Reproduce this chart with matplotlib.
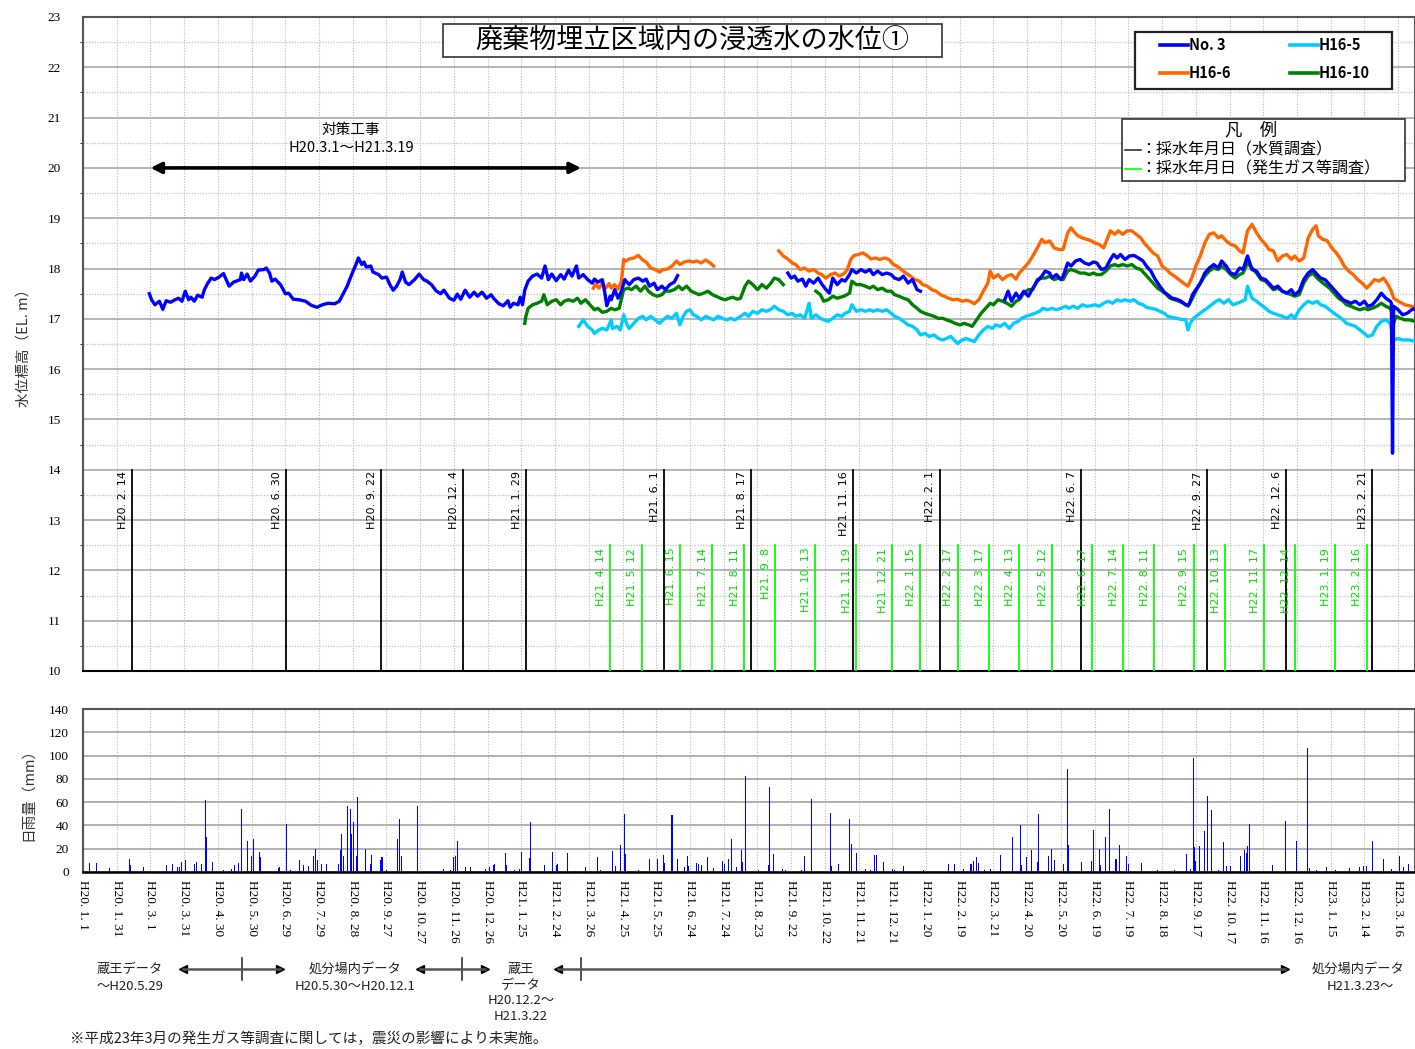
"""廃棄物埋立区域内の浸透水の水位① と日雨量."""

import datetime as dt

import numpy as np
import matplotlib.pyplot as plt
from matplotlib.patches import Rectangle
from matplotlib.ticker import MultipleLocator

plt.rcParams['font.family'] = ['Noto Sans CJK JP', 'DejaVu Sans']

# 基準日 H20.1.1 からの経過日数で横軸をとる
BASE = dt.date(2008, 1, 1)


def heisei(s):
    """'H21. 4. 14' のような平成表記を経過日数に変換."""
    y, m, d = [int(v) for v in s.replace('H', '').replace(' ', '').split('.')]
    return (dt.date(1988 + y, m, d) - BASE).days


# 浸透水の水位 (経過日数, EL.m)
no3 = [
    (59, 17.50), (61, 17.38), (64, 17.28), (68, 17.35), (71, 17.19), (74, 17.36),
    (78, 17.33), (81, 17.37), (85, 17.41), (88, 17.35), (91, 17.55), (94, 17.38),
    (96, 17.43), (99, 17.35), (102, 17.47), (106, 17.43), (108, 17.58), (111, 17.71),
    (114, 17.81), (117, 17.78), (121, 17.83), (125, 17.90), (130, 17.65), (134, 17.73),
    (140, 17.78), (141, 17.91), (143, 17.78), (146, 17.89), (149, 17.75), (153, 17.85),
    (156, 17.97), (161, 17.98), (163, 18.01), (166, 17.91), (168, 17.75), (171, 17.79),
    (176, 17.67), (180, 17.50), (183, 17.51), (187, 17.39), (192, 17.38), (198, 17.35),
    (203, 17.27), (208, 17.23), (213, 17.28), (218, 17.31), (224, 17.30), (228, 17.35),
    (231, 17.48), (235, 17.65), (239, 17.88), (243, 18.09), (245, 18.21), (248, 18.08),
    (250, 18.13), (252, 18.03), (256, 18.05), (258, 17.93), (263, 17.88), (266, 17.81),
    (270, 17.83), (273, 17.68), (276, 17.57), (279, 17.65), (282, 17.78), (284, 17.93),
    (287, 17.73), (290, 17.68), (295, 17.78), (299, 17.89), (303, 17.78), (306, 17.75),
    (310, 17.68), (314, 17.56), (318, 17.50), (321, 17.57), (326, 17.41), (330, 17.37),
    (333, 17.49), (336, 17.39), (340, 17.57), (344, 17.43), (348, 17.53), (351, 17.45),
    (355, 17.53), (359, 17.41), (363, 17.48), (366, 17.39), (370, 17.30), (374, 17.26),
    (378, 17.36), (380, 17.23), (383, 17.31), (387, 17.28), (389, 17.43), (391, 17.28),
    (393, 17.57), (396, 17.75), (400, 17.85), (404, 17.89), (408, 17.81), (411, 18.05),
    (414, 17.78), (417, 17.89), (421, 17.76), (425, 17.88), (428, 17.79), (432, 17.97),
    (435, 17.85), (439, 18.05), (441, 17.81), (445, 17.88), (449, 17.78), (453, 17.71),
    (455, 17.79), (458, 17.73), (462, 17.78), (464, 17.55), (466, 17.26), (469, 17.45),
    (470, 17.38), (473, 17.58), (476, 17.41), (479, 17.55), (482, 17.78), (486, 17.68),
    (490, 17.78), (494, 17.81), (498, 17.75), (501, 17.79), (504, 17.65), (508, 17.71),
    (511, 17.58), (515, 17.65), (518, 17.58), (522, 17.68), (526, 17.73), (529, 17.86),
    (530, np.nan),
    (627, 17.91), (630, 17.81), (633, 17.85), (636, 17.75), (640, 17.79), (643, 17.65),
    (646, 17.78), (650, 17.71), (654, 17.81), (657, 17.70), (661, 17.58), (664, 17.51),
    (667, 17.81), (671, 17.68), (675, 17.78), (678, 17.75), (682, 17.88), (684, 17.98),
    (688, 17.91), (692, 17.98), (696, 17.93), (700, 17.98), (703, 17.88), (707, 17.95),
    (711, 17.88), (715, 17.91), (719, 17.88), (722, 17.81), (726, 17.78), (730, 17.85),
    (734, 17.71), (738, 17.78), (742, 17.58), (745, 17.55),
    (746, np.nan),
    (820, 17.38), (823, 17.55), (826, 17.35), (830, 17.51), (833, 17.41), (837, 17.55),
    (841, 17.45), (845, 17.61), (849, 17.75), (853, 17.85), (856, 17.95), (860, 17.91),
    (862, 17.81), (866, 17.88), (870, 17.78), (872, 17.85), (876, 18.11), (879, 18.05),
    (883, 18.15), (887, 18.18), (891, 18.11), (895, 18.08), (899, 18.13), (902, 18.11),
    (906, 17.98), (910, 18.01), (914, 18.18), (917, 18.28), (920, 18.21), (923, 18.28),
    (927, 18.18), (931, 18.25), (935, 18.26), (939, 18.21), (943, 18.15), (946, 18.05),
    (950, 17.95), (954, 17.78), (958, 17.65), (962, 17.53), (965, 17.48), (969, 17.41),
    (973, 17.39), (977, 17.35), (981, 17.28), (984, 17.28), (987, 17.48), (990, 17.58),
    (994, 17.71), (998, 17.91), (1002, 18.01), (1006, 18.08), (1010, 18.01), (1013, 18.15),
    (1017, 18.05), (1021, 17.91), (1025, 17.88), (1029, 18.01), (1032, 17.98), (1036, 18.25),
    (1040, 17.98), (1044, 17.95), (1048, 17.81), (1052, 17.78), (1055, 17.71), (1059, 17.61),
    (1063, 17.65), (1067, 17.55), (1071, 17.51), (1075, 17.58), (1078, 17.48), (1082, 17.55),
    (1086, 17.78), (1090, 17.91), (1094, 17.98), (1098, 17.88), (1101, 17.81), (1105, 17.78),
    (1109, 17.68), (1113, 17.58), (1117, 17.48), (1121, 17.38), (1124, 17.35), (1128, 17.31),
    (1132, 17.35), (1136, 17.28), (1140, 17.35), (1143, 17.25), (1147, 17.28), (1151, 17.38),
    (1155, 17.51), (1159, 17.41), (1163, 17.35), (1164, 17.31), (1165, 14.33), (1166, 17.25),
    (1170, 17.18), (1174, 17.08), (1178, 17.11), (1182, 17.18), (1185, 17.21),
]

h16_5 = [
    (441, 16.85), (445, 16.98), (449, 16.85), (453, 16.78), (455, 16.71), (459, 16.78),
    (462, 16.81), (466, 16.78), (470, 16.98), (471, 16.81), (475, 16.85), (478, 16.78),
    (481, 17.08), (484, 16.88), (486, 16.81), (490, 16.91), (494, 17.01), (498, 17.05),
    (501, 16.98), (505, 17.05), (509, 16.98), (513, 16.91), (516, 16.98), (520, 17.05),
    (524, 17.01), (528, 17.11), (531, 16.88), (534, 17.05), (537, 17.15), (540, 17.18),
    (543, 17.08), (546, 17.05), (550, 16.98), (554, 17.05), (558, 17.01), (561, 16.98),
    (565, 17.05), (569, 17.01), (573, 16.98), (576, 17.01), (580, 16.98), (585, 17.05),
    (589, 17.11), (592, 17.05), (596, 17.15), (600, 17.11), (604, 17.18), (608, 17.15),
    (612, 17.19), (615, 17.25), (619, 17.18), (623, 17.15), (627, 17.08), (631, 17.11),
    (634, 17.05), (638, 17.08), (642, 17.01), (646, 17.31), (648, 17.01), (652, 17.08),
    (656, 17.01), (659, 16.98), (663, 16.95), (667, 17.01), (671, 17.08), (675, 17.05),
    (678, 17.11), (682, 17.15), (684, 17.28), (688, 17.15), (692, 17.18), (696, 17.15),
    (700, 17.18), (703, 17.15), (707, 17.18), (711, 17.15), (715, 17.18), (719, 17.11),
    (722, 17.05), (726, 17.01), (730, 16.95), (734, 16.88), (738, 16.85), (742, 16.78),
    (745, 16.68), (749, 16.71), (753, 16.65), (757, 16.68), (761, 16.61), (765, 16.58),
    (768, 16.61), (772, 16.65), (778, 16.51), (782, 16.58), (786, 16.61), (789, 16.58),
    (793, 16.55), (797, 16.68), (801, 16.78), (805, 16.85), (809, 16.81), (812, 16.88),
    (816, 16.85), (820, 16.91), (824, 16.81), (828, 16.91), (832, 16.95), (835, 17.01),
    (839, 17.05), (843, 17.08), (847, 17.11), (851, 17.15), (854, 17.21), (858, 17.18),
    (862, 17.21), (866, 17.18), (870, 17.21), (874, 17.25), (877, 17.21), (881, 17.25),
    (885, 17.21), (889, 17.28), (893, 17.25), (897, 17.26), (900, 17.28), (904, 17.25),
    (908, 17.31), (912, 17.35), (916, 17.31), (920, 17.38), (923, 17.35), (927, 17.38),
    (931, 17.35), (935, 17.38), (939, 17.31), (943, 17.28), (946, 17.23), (950, 17.21),
    (954, 17.19), (958, 17.15), (962, 17.11), (965, 17.05), (969, 17.03), (973, 17.01),
    (977, 16.99), (981, 16.98), (983, 16.78), (985, 16.91), (988, 17.01), (992, 17.08),
    (996, 17.15), (1000, 17.21), (1004, 17.28), (1008, 17.35), (1011, 17.38), (1015, 17.31),
    (1019, 17.38), (1023, 17.28), (1027, 17.31), (1031, 17.35), (1034, 17.38), (1036, 17.65),
    (1040, 17.41), (1044, 17.35), (1048, 17.28), (1052, 17.21), (1055, 17.15), (1059, 17.11),
    (1063, 17.08), (1067, 17.05), (1071, 17.01), (1075, 17.08), (1078, 17.01), (1082, 17.18),
    (1086, 17.28), (1090, 17.35), (1094, 17.31), (1098, 17.35), (1101, 17.28), (1105, 17.25),
    (1109, 17.18), (1113, 17.11), (1117, 17.05), (1121, 16.98), (1124, 16.91), (1128, 16.88),
    (1132, 16.85), (1136, 16.78), (1140, 16.71), (1143, 16.65), (1147, 16.68), (1151, 16.85),
    (1155, 16.95), (1159, 16.98), (1163, 16.91), (1166, 16.58), (1170, 16.61), (1174, 16.58),
    (1180, 16.58), (1185, 16.55),
]

h16_6 = [
    (454, 17.61), (456, 17.69), (459, 17.61), (462, 17.71), (465, 17.61), (468, 17.70),
    (470, 17.61), (473, 17.68), (476, 17.59), (479, 17.75), (481, 18.18), (483, 18.15),
    (486, 18.19), (490, 18.21), (494, 18.26), (498, 18.17), (501, 18.13), (505, 18.01),
    (509, 17.98), (513, 17.93), (516, 17.98), (520, 17.99), (524, 18.05), (528, 18.15),
    (531, 18.08), (535, 18.13), (539, 18.15), (543, 18.13), (546, 18.15), (550, 18.11),
    (554, 18.17), (558, 18.11), (561, 18.05),
    (562, np.nan),
    (619, 18.35), (623, 18.25), (627, 18.19), (631, 18.11), (634, 18.08), (638, 17.98),
    (642, 18.01), (646, 17.95), (650, 17.98), (654, 17.91), (657, 17.88), (661, 17.81),
    (665, 17.88), (669, 17.91), (673, 17.85), (677, 17.90), (680, 17.98), (683, 18.18),
    (686, 18.26), (690, 18.28), (694, 18.31), (698, 18.25), (701, 18.19), (705, 18.21),
    (709, 18.18), (713, 18.21), (717, 18.18), (721, 18.08), (724, 18.05), (728, 17.98),
    (732, 17.91), (736, 17.85), (740, 17.78), (744, 17.75), (747, 17.68), (751, 17.65),
    (755, 17.58), (759, 17.55), (763, 17.48), (766, 17.45), (770, 17.41), (774, 17.38),
    (778, 17.39), (782, 17.35), (786, 17.37), (789, 17.35), (793, 17.30), (797, 17.38),
    (801, 17.55), (805, 17.71), (807, 17.95), (810, 17.81), (814, 17.88), (818, 17.78),
    (822, 17.85), (826, 17.88), (830, 17.79), (833, 17.91), (837, 18.01), (841, 18.11),
    (845, 18.25), (849, 18.41), (853, 18.58), (856, 18.51), (860, 18.55), (864, 18.41),
    (868, 18.38), (872, 18.38), (876, 18.71), (879, 18.81), (881, 18.75), (885, 18.65),
    (889, 18.61), (893, 18.58), (897, 18.55), (900, 18.51), (904, 18.48), (908, 18.41),
    (911, 18.58), (914, 18.75), (918, 18.68), (921, 18.75), (925, 18.68), (929, 18.75),
    (933, 18.75), (937, 18.68), (941, 18.61), (944, 18.51), (948, 18.41), (952, 18.31),
    (956, 18.25), (960, 18.05), (964, 17.98), (967, 17.91), (971, 17.85), (975, 17.78),
    (979, 17.71), (983, 17.65), (987, 17.85), (990, 18.05), (994, 18.25), (998, 18.51),
    (1002, 18.68), (1006, 18.71), (1010, 18.61), (1013, 18.65), (1017, 18.55), (1021, 18.48),
    (1025, 18.45), (1029, 18.35), (1032, 18.31), (1036, 18.75), (1040, 18.88), (1044, 18.71),
    (1048, 18.58), (1052, 18.48), (1055, 18.38), (1059, 18.35), (1063, 18.15), (1067, 18.25),
    (1071, 18.28), (1075, 18.18), (1078, 18.25), (1082, 18.15), (1086, 18.21), (1090, 18.61),
    (1094, 18.78), (1097, 18.85), (1099, 18.65), (1103, 18.58), (1107, 18.55), (1111, 18.41),
    (1115, 18.31), (1119, 18.18), (1122, 18.05), (1126, 17.95), (1130, 17.88), (1134, 17.78),
    (1138, 17.71), (1142, 17.61), (1145, 17.68), (1149, 17.78), (1153, 17.75), (1157, 17.81),
    (1161, 17.68), (1164, 17.55), (1166, 17.41), (1170, 17.35), (1176, 17.28), (1182, 17.25),
    (1185, 17.21),
]

h16_10 = [
    (393, 16.91), (394, 17.05), (396, 17.21), (400, 17.28), (404, 17.31), (408, 17.35),
    (410, 17.48), (413, 17.28), (417, 17.35), (421, 17.38), (425, 17.28), (428, 17.35),
    (432, 17.38), (436, 17.35), (440, 17.41), (443, 17.31), (447, 17.38), (451, 17.28),
    (455, 17.18), (458, 17.21), (462, 17.13), (466, 17.15), (470, 17.21), (473, 17.18),
    (477, 17.21), (481, 17.58), (485, 17.61), (488, 17.58), (492, 17.65), (496, 17.55),
    (500, 17.65), (503, 17.55), (507, 17.48), (511, 17.45), (515, 17.48), (518, 17.55),
    (522, 17.55), (526, 17.58), (530, 17.65), (533, 17.58), (537, 17.65), (541, 17.55),
    (545, 17.51), (548, 17.48), (552, 17.51), (556, 17.55), (560, 17.48), (563, 17.45),
    (567, 17.41), (571, 17.38), (575, 17.41), (578, 17.43), (582, 17.39), (585, 17.41),
    (589, 17.65), (592, 17.75), (596, 17.68), (600, 17.58), (604, 17.68), (608, 17.61),
    (612, 17.71), (615, 17.81), (619, 17.78), (623, 17.68),
    (624, np.nan),
    (652, 17.55), (656, 17.48), (659, 17.35), (663, 17.38), (667, 17.45), (671, 17.41),
    (677, 17.45), (682, 17.51), (684, 17.75), (688, 17.68), (692, 17.68), (696, 17.65),
    (700, 17.61), (703, 17.65), (707, 17.58), (711, 17.61), (715, 17.55), (719, 17.55),
    (722, 17.48), (726, 17.45), (730, 17.41), (734, 17.38), (738, 17.28), (742, 17.21),
    (745, 17.15), (749, 17.11), (753, 17.08), (757, 17.05), (761, 17.01), (765, 17.01),
    (768, 16.98), (772, 16.95), (776, 16.91), (780, 16.88), (784, 16.91), (788, 16.88),
    (791, 16.85), (795, 16.98), (799, 17.11), (803, 17.21), (807, 17.31), (810, 17.28),
    (814, 17.38), (818, 17.35), (822, 17.31), (826, 17.25), (830, 17.35), (833, 17.38),
    (837, 17.51), (841, 17.58), (845, 17.58), (849, 17.78), (853, 17.81), (856, 17.81),
    (860, 17.85), (864, 17.78), (868, 17.81), (872, 17.78), (876, 17.95), (879, 17.98),
    (883, 17.95), (887, 17.91), (891, 17.91), (895, 17.88), (899, 17.91), (902, 17.88),
    (906, 17.88), (910, 17.95), (914, 18.05), (918, 18.08), (921, 18.05), (925, 18.08),
    (929, 18.05), (933, 18.08), (937, 18.01), (941, 17.98), (944, 17.91), (948, 17.81),
    (952, 17.71), (956, 17.61), (960, 17.55), (964, 17.48), (967, 17.41), (971, 17.38),
    (975, 17.35), (979, 17.31), (983, 17.25), (987, 17.41), (990, 17.55), (994, 17.71),
    (998, 17.85), (1002, 17.95), (1006, 18.01), (1010, 17.98), (1013, 18.05), (1017, 17.98),
    (1021, 17.88), (1025, 17.81), (1029, 17.88), (1032, 17.91), (1036, 18.11), (1040, 18.01),
    (1044, 17.91), (1048, 17.78), (1052, 17.75), (1055, 17.68), (1059, 17.58), (1063, 17.61),
    (1067, 17.55), (1071, 17.51), (1075, 17.48), (1078, 17.45), (1082, 17.48), (1086, 17.71),
    (1090, 17.85), (1094, 17.91), (1098, 17.81), (1101, 17.75), (1105, 17.68), (1109, 17.61),
    (1113, 17.51), (1117, 17.41), (1121, 17.35), (1124, 17.28), (1128, 17.25), (1132, 17.21),
    (1136, 17.18), (1140, 17.21), (1143, 17.18), (1147, 17.21), (1151, 17.25), (1155, 17.31),
    (1159, 17.25), (1163, 17.21), (1164, 17.15), (1166, 16.91), (1168, 17.05), (1172, 17.01),
    (1176, 16.98), (1180, 16.98), (1185, 16.95),
]

# 日雨量 (経過日数, mm)
rain = [
    (6, 8), (12, 8), (20, 1), (24, 3.4), (41, 11), (42, 6), (54, 4), (60, 1), (74, 6),
    (80, 7), (84, 4), (86, 4), (88, 9), (91, 10.6), (99, 7), (101, 9), (105, 7),
    (109, 61.7), (110, 30), (115, 9), (125, 2), (132, 3), (135, 6), (138, 8), (141, 54),
    (146, 27), (150, 14), (152, 28), (157, 17.4), (158, 12.6), (174, 3.4), (175, 4.6),
    (181, 41.4), (185, 2), (193, 10), (196, 6), (201, 5), (205, 14), (207, 20), (209, 10),
    (212, 7), (217, 7), (227, 7), (229, 18.6), (230, 32.6), (232, 14), (235, 57),
    (238, 53.7), (239, 32.6), (241, 43), (243, 14), (244, 64.6), (251, 19.7), (256, 7),
    (257, 15), (265, 10.6), (266, 12.6), (270, 2), (280, 28), (282, 45.4), (283, 14),
    (298, 56.6), (321, 3), (327, 2), (330, 12.6), (331, 13.4), (333, 27), (340, 4),
    (345, 4.6), (358, 3), (362, 4), (365, 6), (366, 7), (376, 16), (377, 6), (384, 2),
    (388, 3), (390, 17), (397, 12), (398, 42.6), (411, 6), (418, 17), (421, 6), (422, 7),
    (431, 16.3), (438, 1), (447, 4), (458, 12.6), (460, 2), (471, 18), (474, 5),
    (478, 23.4), (482, 49.7), (483, 15.4), (494, 1.5), (504, 11), (511, 11), (516, 15),
    (517, 8), (524, 48.6), (529, 11), (535, 4.6), (538, 13.7), (539, 5), (546, 8),
    (548, 7), (550, 6), (556, 13), (561, 3.4), (569, 9.4), (571, 6.6), (574, 11.4),
    (577, 28.6), (581, 4), (586, 19), (587, 9), (589, 82.3), (601, 1.5), (610, 6),
    (611, 73), (614, 15.7), (622, 3), (625, 1.5), (639, 1.5), (642, 14), (648, 62.9),
    (665, 50.6), (666, 5), (672, 6.6), (682, 45.4), (684, 24), (688, 16), (696, 3),
    (701, 2), (704, 15), (706, 14.6), (712, 9), (720, 2.5), (722, 2), (730, 5.4),
    (748, 1.5), (770, 6.6), (775, 6.6), (783, 3), (790, 7), (792, 9.4), (795, 12.6),
    (797, 8), (802, 1.5), (807, 3), (816, 15), (827, 30), (834, 40), (835, 6), (839, 13),
    (844, 19), (849, 9), (850, 49.4), (859, 13.4), (862, 19.7), (864, 10.6), (872, 7),
    (876, 88.3), (877, 23), (888, 8.6), (897, 9.7), (899, 35.7), (904, 20), (905, 6),
    (910, 29.7), (913, 54), (919, 11), (922, 23), (928, 13.4), (930, 7), (942, 7.7),
    (956, 1.5), (971, 1.5), (982, 15.4), (985, 3), (988, 98), (989, 21.7), (990, 9.4),
    (993, 22.6), (998, 34.9), (1000, 64.9), (1004, 53), (1010, 1.5), (1015, 26),
    (1017, 5.4), (1021, 5.4), (1030, 13.4), (1033, 18.6), (1035, 16), (1036, 22),
    (1038, 41.4), (1058, 6), (1070, 43.7), (1080, 27), (1089, 106.9), (1091, 3.4),
    (1097, 2), (1106, 4), (1114, 2), (1127, 3.4), (1136, 4), (1139, 5), (1142, 5),
    (1147, 27), (1157, 11.4), (1164, 3), (1171, 13.7), (1175, 4.6), (1179, 7),
]

# 採水年月日
water_dates = [
    'H20. 2. 14', 'H20. 6. 30', 'H20. 9. 22', 'H20. 12. 4', 'H21. 1. 29',
    'H21. 6. 1', 'H21. 8. 17', 'H21. 11. 16', 'H22. 2. 1', 'H22. 6. 7',
    'H22. 9. 27', 'H22. 12. 6', 'H23. 2. 21',
]
gas_dates = [
    'H21. 4. 14', 'H21. 5. 12', 'H21. 6. 15', 'H21. 7. 14', 'H21. 8. 11',
    'H21. 9. 8', 'H21. 10. 13', 'H21. 11. 19', 'H21. 12. 21', 'H22. 1. 15',
    'H22. 2. 17', 'H22. 3. 17', 'H22. 4. 13', 'H22. 5. 12', 'H22. 6. 17',
    'H22. 7. 14', 'H22. 8. 11', 'H22. 9. 15', 'H22. 10. 13', 'H22. 11. 17',
    'H22. 12. 14', 'H23. 1. 19', 'H23. 2. 16',
]

# 横軸の目盛
tick_labels = [
    'H20. 1. 1', 'H20. 1. 31', 'H20. 3. 1', 'H20. 3. 31', 'H20. 4. 30', 'H20. 5. 30',
    'H20. 6. 29', 'H20. 7. 29', 'H20. 8. 28', 'H20. 9. 27', 'H20. 10. 27', 'H20. 11. 26',
    'H20. 12. 26', 'H21. 1. 25', 'H21. 2. 24', 'H21. 3. 26', 'H21. 4. 25', 'H21. 5. 25',
    'H21. 6. 24', 'H21. 7. 24', 'H21. 8. 23', 'H21. 9. 22', 'H21. 10. 22', 'H21. 11. 21',
    'H21. 12. 21', 'H22. 1. 20', 'H22. 2. 19', 'H22. 3. 21', 'H22. 4. 20', 'H22. 5. 20',
    'H22. 6. 19', 'H22. 7. 19', 'H22. 8. 18', 'H22. 9. 17', 'H22. 10. 17', 'H22. 11. 16',
    'H22. 12. 16', 'H23. 1. 15', 'H23. 2. 14', 'H23. 3. 16',
]

series = [
    ('H16-5', h16_5, '#00CCFF'),
    ('H16-10', h16_10, '#008000'),
    ('H16-6', h16_6, '#FF6600'),
    ('No. 3', no3, '#0000FF'),
]

W, H = 1415, 1049
SERIF = 'Liberation Serif'
XMAX = heisei('H23. 3. 31')
ticks = [heisei(s) for s in tick_labels]

fig = plt.figure(figsize=(W / 100, H / 100), dpi=100)
ax = fig.add_axes([83 / W, 1 - 671 / H, 1332 / W, 654 / H])
ax2 = fig.add_axes([83 / W, 1 - 872 / H, 1332 / W, 163 / H])


def px(x, y):
    """画像左上基準のピクセル位置を図座標へ."""
    return x / W, 1 - y / H


def box(x0, y0, x1, y1, lw=1.3, ec='#333333'):
    """図座標の白抜き枠."""
    fig.add_artist(Rectangle(px(x0, y1), (x1 - x0) / W, (y1 - y0) / H,
                             transform=fig.transFigure, fc='white', ec=ec, lw=lw,
                             zorder=5))


def seg(x0, x1, y, color, lw):
    fig.add_artist(plt.Line2D([x0 / W, x1 / W], [px(0, y)[1]] * 2, color=color, lw=lw,
                              zorder=6))


# ---- 上段: 水位 ----
for name, data, color in series:
    d = np.array(data, dtype=float)
    ax.plot(d[:, 0], d[:, 1], color=color, lw=2.4, zorder=4)

for s in water_dates:
    x = heisei(s)
    ax.plot([x, x], [10, 14], color='black', lw=1.3, zorder=3)
    ax.annotate(s, (x, 13.97), xytext=(-3, 0), textcoords='offset points',
                rotation=90, ha='right', va='top', fontsize=8,
                family='DejaVu Sans', color='black')

for s in gas_dates:
    x = heisei(s)
    ax.plot([x, x], [10, 12.5], color='#00FF00', lw=1.3, zorder=3)
    ax.annotate(s, (x, 12.45), xytext=(-3, 0), textcoords='offset points',
                rotation=90, ha='right', va='top', fontsize=8,
                family='DejaVu Sans', color='#00E000')

ax.set_xlim(0, XMAX)
ax.set_ylim(10, 23)
ax.set_xticks(ticks)
ax.set_xticklabels([])
ax.yaxis.set_major_locator(MultipleLocator(1))
ax.yaxis.set_minor_locator(MultipleLocator(0.5))
ax.grid(axis='y', which='major', color='#b0b0b0', lw=1.3)
ax.grid(axis='y', which='minor', color='#c8c8c8', lw=1.0, ls=(0, (1, 1)))
ax.grid(axis='x', which='major', color='#b8b8b8', lw=0.8, ls=(0, (1, 1.5)))
ax.tick_params(length=0, labelsize=9.5, pad=16)
for lab in ax.get_yticklabels():
    lab.set_family(SERIF)
for sp in ax.spines.values():
    sp.set_color('#555555')
    sp.set_linewidth(1.5)
ax.spines['bottom'].set_color('black')
ax.set_ylabel('水位標高（EL. m）', fontsize=10.5, labelpad=12, color='#333333')

# 対策工事の期間
ax.annotate('', xy=(heisei('H21. 3. 19'), 20), xytext=(heisei('H20. 3. 1'), 20),
            arrowprops=dict(arrowstyle='<|-|>', lw=2.6, color='black',
                            mutation_scale=16, shrinkA=0, shrinkB=0))
fig.text(*px(351, 130), '対策工事', ha='center', va='center', fontsize=10.5)
fig.text(*px(351, 148), 'H20.3.1～H21.3.19', ha='center', va='center', fontsize=10.5)

# 表題
box(443, 24, 942, 57, lw=1.2)
fig.text(*px(692, 40), '廃棄物埋立区域内の浸透水の水位①', ha='center', va='center',
         fontsize=19.5, zorder=7)

# 凡例 (観測孔)
box(1135, 32, 1392, 89, lw=1.6, ec='#222222')
legend_pos = {'No. 3': (1160, 45), 'H16-5': (1290, 45),
              'H16-6': (1160, 73), 'H16-10': (1290, 73)}
for name, _, color in series:
    x, y = legend_pos[name]
    seg(x, x + 28, y, color, 2.6)
    fig.text(*px(x + 29, y), name, ha='left', va='center', fontsize=10.5,
             weight='bold', zorder=7)

# 凡例 (採水年月日)
box(1122, 119, 1405, 181, lw=1.2)
fig.text(*px(1251, 131), '凡　例', ha='center', va='center', fontsize=12.5, zorder=7)
for y, color, s in [(150, '#333333', '：採水年月日（水質調査）'),
                    (169, '#00FF00', '：採水年月日（発生ガス等調査）')]:
    seg(1125, 1141, y, color, 1.2)
    fig.text(*px(1140, y), s, ha='left', va='center', fontsize=11.5, zorder=7)

# ---- 下段: 日雨量 ----
r = np.array(rain, dtype=float)
ax2.bar(r[:, 0], r[:, 1], width=0.9, color='#0000FF', lw=0, zorder=3)
ax2.set_xlim(0, XMAX)
ax2.set_ylim(0, 140)
ax2.yaxis.set_major_locator(MultipleLocator(20))
ax2.set_xticks(ticks)
ax2.set_xticklabels(tick_labels, rotation=270, ha='center', va='top',
                    family=SERIF, fontsize=9.5)
ax2.grid(axis='y', color='#aaaaaa', lw=1.3)
ax2.grid(axis='x', color='#b8b8b8', lw=0.8, ls=(0, (1, 1.5)))
ax2.tick_params(length=0, labelsize=9.5)
ax2.tick_params(axis='y', pad=10)
ax2.tick_params(axis='x', pad=6)
for lab in ax2.get_yticklabels():
    lab.set_family(SERIF)
for sp in ax2.spines.values():
    sp.set_color('#555555')
    sp.set_linewidth(1.5)
ax2.spines['bottom'].set_color('black')
ax2.spines['bottom'].set_linewidth(1.8)
ax2.set_ylabel('日雨量（mm）', fontsize=10.5, labelpad=10, color='#333333')

# ---- データの出典 ----
notes = [
    (130, 969, '蔵王データ'), (130, 986, '～H20.5.29'),
    (355, 969, '処分場内データ'), (355, 986, 'H20.5.30～H20.12.1'),
    (521, 969, '蔵王'), (521, 985, 'データ'), (521, 1001, 'H20.12.2～'),
    (521, 1017, 'H21.3.22'),
    (1358, 969, '処分場内データ'), (1360, 986, 'H21.3.23～'),
]
for x, y, s in notes:
    fig.text(*px(x, y), s, ha='center', va='center', fontsize=9.5, color='#222222')

for x0, x1, xt in [(183, 280, 242), (420, 485, 462), (558, 1285, 581)]:
    seg(x0, x1, 969, '#555555', 1.8)
    fig.add_artist(plt.Line2D([xt / W, xt / W], [px(0, 958)[1], px(0, 980)[1]],
                              color='#333333', lw=1.2))
    for xa, m in [(x0, '<'), (x1, '>')]:
        fig.add_artist(plt.Line2D([xa / W], [px(0, 969)[1]], marker=m, ms=6,
                                  color='black', ls='none'))

fig.text(*px(70, 1039), '※平成23年3月の発生ガス等調査に関しては，震災の影響により未実施。',
         ha='left', va='center', fontsize=10.5, color='#222222')

plt.savefig('out.png', dpi=100)
